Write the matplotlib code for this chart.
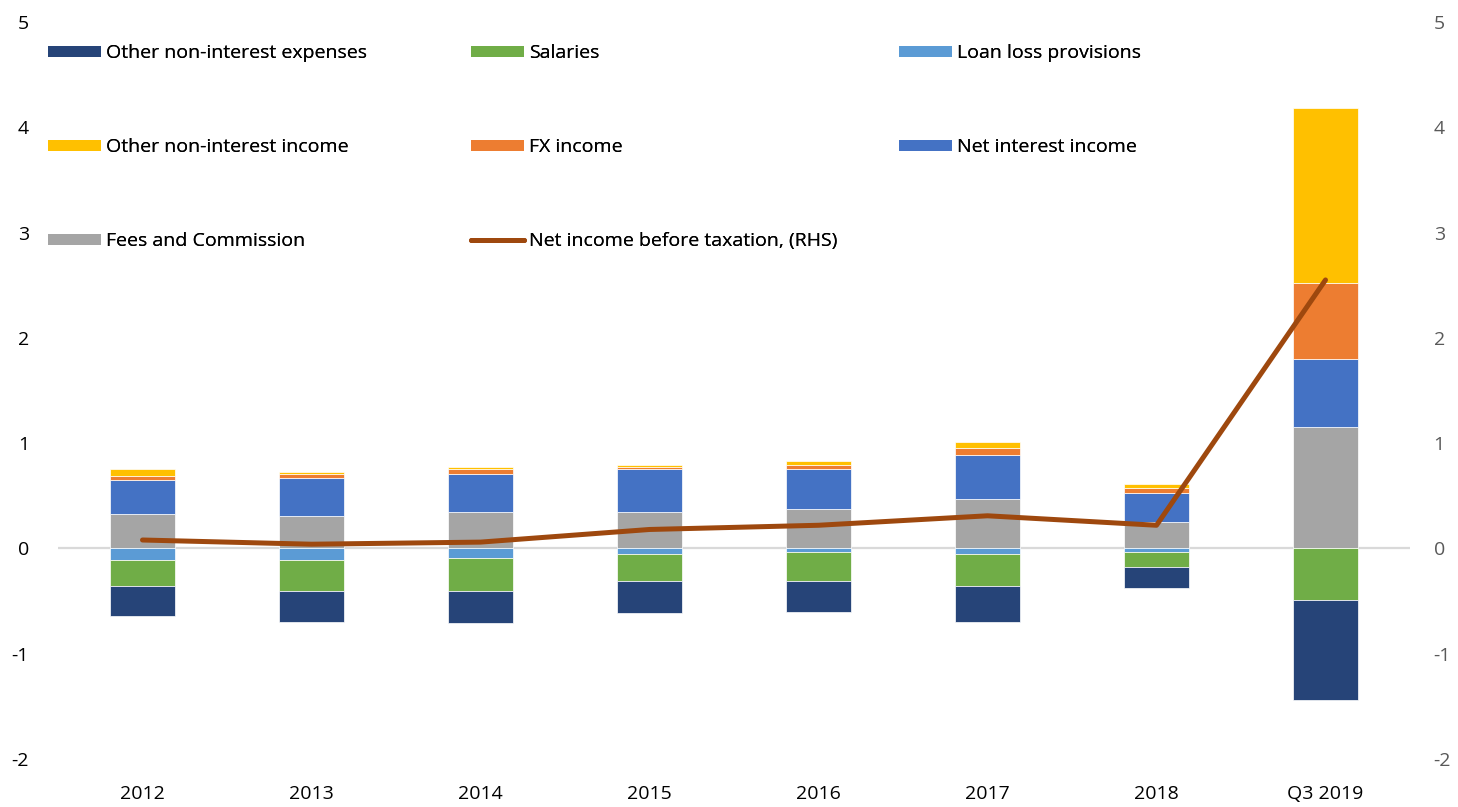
import numpy as np
import matplotlib
matplotlib.use("Agg")
import matplotlib.pyplot as plt
from matplotlib.patches import Patch
from matplotlib.lines import Line2D

plt.rcParams["font.family"] = ["Open Sans", "DejaVu Sans"]
plt.rcParams["axes.unicode_minus"] = False

# Categories and series
years = ["2012", "2013", "2014", "2015", "2016", "2017", "2018", "Q3 2019"]
fees = [0.33, 0.31, 0.35, 0.35, 0.37, 0.47, 0.25, 1.15]
net_interest = [0.32, 0.36, 0.36, 0.40, 0.38, 0.42, 0.28, 0.65]
fx_income = [0.04, 0.04, 0.045, 0.02, 0.04, 0.06, 0.045, 0.72]
other_income = [0.06, 0.02, 0.02, 0.02, 0.04, 0.06, 0.04, 1.66]
loan_loss = [-0.11, -0.11, -0.095, -0.05, -0.035, -0.057, -0.035, 0.0]
salaries = [-0.25, -0.29, -0.31, -0.26, -0.27, -0.30, -0.14, -0.49]
other_exp = [-0.28, -0.30, -0.30, -0.30, -0.30, -0.34, -0.20, -0.95]
net_income = [0.08, 0.04, 0.06, 0.18, 0.22, 0.31, 0.22, 2.55]

C_OTHER_EXP = "#264478"
C_SAL = "#70AD47"
C_LLP = "#5B9BD5"
C_OTHER_INC = "#FFC000"
C_FX = "#ED7D31"
C_NII = "#4472C4"
C_FEES = "#A5A5A5"
C_LINE = "#9E480E"

FS = 14

fig = plt.figure(figsize=(14.58, 8.07), dpi=100)
ax = fig.add_axes([58 / 1458, 1 - 759 / 807, (1410 - 58) / 1458, (759 - 22) / 807])
ax2 = ax.twinx()

x = np.arange(len(years))
w = 0.39
bar_kw = dict(width=w, edgecolor="white", linewidth=0.5)

ax.axhline(0, color="#D9D9D9", lw=1.6, zorder=0)

# positive stack
pos_series = [(fees, C_FEES), (net_interest, C_NII), (fx_income, C_FX), (other_income, C_OTHER_INC)]
bottom = np.zeros(len(years))
for vals, col in pos_series:
    ax.bar(x, vals, bottom=bottom, color=col, **bar_kw)
    bottom += np.array(vals)

# negative stack
neg_series = [(loan_loss, C_LLP), (salaries, C_SAL), (other_exp, C_OTHER_EXP)]
bottom = np.zeros(len(years))
for vals, col in neg_series:
    ax.bar(x, vals, bottom=bottom, color=col, **bar_kw)
    bottom += np.array(vals)

ax2.plot(x, net_income, color=C_LINE, lw=3.6, solid_capstyle="round", solid_joinstyle="round")

for a in (ax, ax2):
    a.set_ylim(-2, 5)
    a.set_yticks(range(-2, 6))
    for s in a.spines.values():
        s.set_visible(False)
ax.set_xlim(-0.5, len(years) - 0.5)
ax.set_xticks(x)
ax.set_xticklabels(years)
ax.tick_params(axis="x", length=0, pad=19, labelsize=FS, labelcolor="black")
ax.tick_params(axis="y", length=0, pad=21, labelsize=FS, labelcolor="black")
ax2.tick_params(axis="y", length=0, pad=17, labelsize=FS, labelcolor="#595959")

# legend laid out in three fixed columns like the original
def patch(col, label):
    return Patch(facecolor=col, label=label)

columns = [
    (48, [patch(C_OTHER_EXP, "Other non-interest expenses"),
          patch(C_OTHER_INC, "Other non-interest income"),
          patch(C_FEES, "Fees and Commission")]),
    (471, [patch(C_SAL, "Salaries"),
           patch(C_FX, "FX income"),
           Line2D([], [], color=C_LINE, lw=3.6, solid_capstyle="round",
                  label="Net income before taxation, (RHS)")]),
    (899, [patch(C_LLP, "Loan loss provisions"),
           patch(C_NII, "Net interest income")]),
]
for xpix, handles in columns:
    leg = fig.legend(handles=handles, loc="upper left",
                     bbox_to_anchor=(xpix / 1458, 1 - 44 / 807),
                     bbox_transform=fig.transFigure,
                     frameon=False, fontsize=FS, borderpad=0, borderaxespad=0,
                     handlelength=2.7, handleheight=0.5, handletextpad=0.3,
                     labelspacing=3.92)
    fig.add_artist(leg)

fig.savefig("out.png", dpi=100)
